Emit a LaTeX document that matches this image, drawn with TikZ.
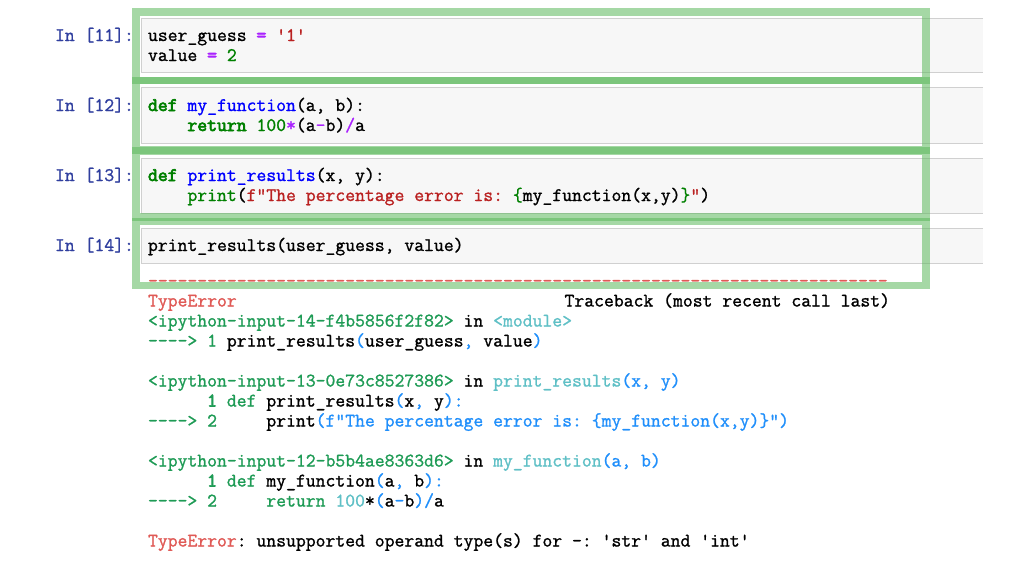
\documentclass[tikz,border=0pt]{standalone}
\usepackage{fontspec}
\setmonofont{Latin Modern Mono}[FakeBold=1.2,BoldFont={Latin Modern Mono},BoldFeatures={FakeBold=3.5}]
\usepackage{xcolor}
\definecolor{prompt}{HTML}{303F9F}
\definecolor{kw}{HTML}{008000}
\definecolor{fn}{HTML}{0000FF}
\definecolor{op}{HTML}{AA22FF}
\definecolor{strc}{HTML}{BA2121}
\definecolor{tgreen}{HTML}{1E9B55}
\definecolor{tcyan}{HTML}{5FC0C6}
\definecolor{tblue}{HTML}{208FFB}
\definecolor{tred}{HTML}{E05A56}
\definecolor{cellfill}{HTML}{F7F7F7}
\definecolor{cellline}{HTML}{D0D0D0}
\definecolor{hl}{HTML}{5CB85C}
\newcommand\cc[2]{\textcolor{#1}{#2}}
\newcommand\ccb[2]{\textcolor{#1}{\bfseries #2}}
\begin{document}
\begin{tikzpicture}[x=1pt,y=-1pt,
  txt/.style={anchor=base west,inner sep=0pt,outer sep=0pt,font=\ttfamily\fontsize{19.15}{20}\selectfont},
  cellbg/.style={fill=cellfill},
  celledge/.style={draw=cellline,line width=1pt},
  frame/.style={draw=hl,draw opacity=0.55,line width=7.5pt}]
\useasboundingbox (0,0) rectangle (1024,576);
\fill[white] (0,0) rectangle (1024,576);
% cells
\foreach \t/\b in {18/72,87/143,158/213,228/263}{
  \fill[cellbg] (141,\t) rectangle (983,\b);
  \draw[celledge] (983,\t) -- (141,\t) -- (141,\b) -- (983,\b);
}
% prompts
\node[txt,text=prompt] (p11) at (55,41) {In [11]:};
\node[txt,text=prompt] (p12) at (55,111) {In [12]:};
\node[txt,text=prompt] (p13) at (55,181) {In [13]:};
\node[txt,text=prompt] (p14) at (55,251) {In [14]:};
% cell code
\node[txt] (c1a) at (148,41) {user\_guess \ccb{op}{=} \cc{strc}{'1'}};
\node[txt] (c1b) at (148,61) {value \ccb{op}{=} \cc{kw}{2}};
\node[txt] (c2a) at (148,111) {\ccb{kw}{def} \cc{fn}{my\_function}(a, b):};
\node[txt] (c2b) at (148,131) {~~~~\ccb{kw}{return} \cc{kw}{100}\cc{op}{*}(a\cc{op}{-}b)\cc{op}{/}a};
\node[txt] (c3a) at (148,181) {\ccb{kw}{def} \cc{fn}{print\_results}(x, y):};
\node[txt] (c3b) at (148,201) {~~~~\cc{kw}{print}(\cc{strc}{f"The percentage error is: }\cc{kw}{\{}my\_function(x,y)\cc{kw}{\}}\cc{strc}{"})};
\node[txt] (c4a) at (148,251) {print\_results(user\_guess, value)};
% traceback
\node[txt,text=tred] (dash) at (148,286.5) {---------------------------------------------------------------------------};
\node[txt] (t1) at (148,306.5) {\cc{tred}{TypeError}};
\node[txt,anchor=base east] (t1b) at (890,306.5) {Traceback (most recent call last)};
\node[txt] (t2) at (148,326.5) {\cc{tgreen}{<ipython-input-14-f4b5856f2f82>} in \cc{tcyan}{<module>}};
\node[txt] (t3) at (148,346.5) {\cc{tgreen}{----> 1} print\_results\cc{tblue}{(}user\_guess\cc{tblue}{,} value\cc{tblue}{)}};
\node[txt] (t4) at (148,386.5) {\cc{tgreen}{<ipython-input-13-0e73c8527386>} in \cc{tcyan}{print\_results}\cc{tblue}{(x, y)}};
\node[txt] (t5) at (148,406.5) {~~~~~~\ccb{tgreen}{1} \cc{tgreen}{def} print\_results\cc{tblue}{(}x\cc{tblue}{,} y\cc{tblue}{):}};
\node[txt] (t6) at (148,426.5) {\cc{tgreen}{----> 2}~~~~~print\cc{tblue}{(f"The percentage error is: \{my\_function(x,y)\}")}};
\node[txt] (t7) at (148,466.5) {\cc{tgreen}{<ipython-input-12-b5b4ae8363d6>} in \cc{tcyan}{my\_function}\cc{tblue}{(a, b)}};
\node[txt] (t8) at (148,486.5) {~~~~~~\ccb{tgreen}{1} \cc{tgreen}{def} my\_function\cc{tblue}{(}a\cc{tblue}{,} b\cc{tblue}{):}};
\node[txt] (t9) at (148,506.5) {\cc{tgreen}{----> 2}~~~~~\cc{tgreen}{return} \cc{tcyan}{100}*\cc{tblue}{(}a\cc{tblue}{-}b\cc{tblue}{)/}a};
\node[txt] (t10) at (148,546.5) {\cc{tred}{TypeError}: unsupported operand type(s) for -: 'str' and 'int'};
% highlight frames
\draw[frame] (136,12) rectangle (926,80.5);
\draw[frame] (136,80.5) rectangle (926,150);
\draw[frame] (136,151) rectangle (926,217);
\draw[frame] (136,221.5) rectangle (926,285.5);
\end{tikzpicture}
\end{document}
